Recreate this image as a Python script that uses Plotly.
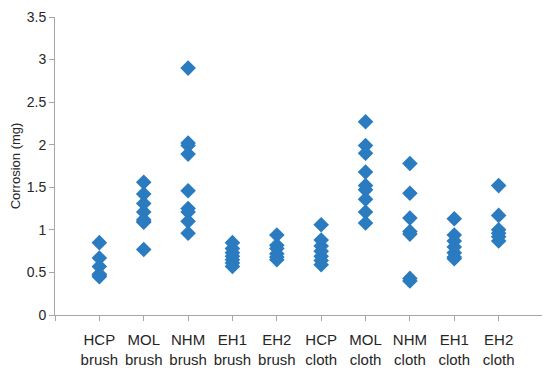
import plotly.graph_objects as go

categories = ["HCP<br>brush", "MOL<br>brush", "NHM<br>brush", "EH1<br>brush", "EH2<br>brush",
              "HCP<br>cloth", "MOL<br>cloth", "NHM<br>cloth", "EH1<br>cloth", "EH2<br>cloth"]

hcp_brush = [0.85, 0.67, 0.57, 0.48, 0.45, 0.47]
mol_brush = [1.56, 1.42, 1.31, 1.21, 1.12, 1.09, 0.77, 1.10]
nhm_brush = [2.90, 2.02, 1.99, 1.89, 1.46, 1.25, 1.21, 1.10, 0.96]
eh1_brush = [0.85, 0.78, 0.73, 0.69, 0.65, 0.61, 0.57]
eh2_brush = [0.94, 0.82, 0.78, 0.72, 0.68, 0.65]
hcp_cloth = [1.06, 0.88, 0.81, 0.75, 0.69, 0.64, 0.59]
mol_cloth = [2.27, 1.99, 1.90, 1.68, 1.52, 1.47, 1.36, 1.21, 1.08]
nhm_cloth = [1.78, 1.43, 1.14, 0.98, 0.95, 0.43, 0.40]
eh1_cloth = [1.13, 0.94, 0.87, 0.80, 0.73, 0.68, 0.66]
eh2_cloth = [1.52, 1.17, 1.00, 0.96, 0.92, 0.87]

groups = [hcp_brush, mol_brush, nhm_brush, eh1_brush, eh2_brush,
          hcp_cloth, mol_cloth, nhm_cloth, eh1_cloth, eh2_cloth]

y_ticks = [0, 0.5, 1, 1.5, 2, 2.5, 3, 3.5]

xs, ys = [], []
for i, g in enumerate(groups):
    xs += [i + 1] * len(g)
    ys += g

fig = go.Figure(go.Scatter(
    x=xs, y=ys, mode="markers",
    marker=dict(symbol="diamond", size=12, color="#2A7BC0"),
    showlegend=False, hoverinfo="skip"))

tickvals = list(range(0, len(categories) + 2))
ticktext = [""] + categories + [""]

# page body has an 8px default margin; figure sized to fit the window
fig.update_layout(
    width=542, height=368,
    margin=dict(l=47, r=7, t=9, b=61),
    paper_bgcolor="white", plot_bgcolor="white",
    font=dict(family="Liberation Sans, Arial, sans-serif", color="#404040"),
    xaxis=dict(range=[0, len(categories) + 1], tickvals=tickvals, ticktext=ticktext,
               showgrid=False, zeroline=False, showline=True, linecolor="#A6A6A6",
               ticks="outside", ticklen=5, tickcolor="#A6A6A6", automargin=False,
               tickfont=dict(size=15, color="#262626"), ticklabelstandoff=6),
    yaxis=dict(range=[0, 3.5], tickvals=y_ticks, ticktext=[("%g" % v) for v in y_ticks],
               showgrid=False, zeroline=False, showline=True, linecolor="#A6A6A6",
               ticks="outside", ticklen=5, tickcolor="#A6A6A6", automargin=False,
               ticklabeloverflow="allow",
               tickfont=dict(size=14, color="#262626"),
               title=dict(text="Corrosion (mg)", font=dict(size=13, color="#262626"), standoff=6)),
)

fig.write_html("out.html")
